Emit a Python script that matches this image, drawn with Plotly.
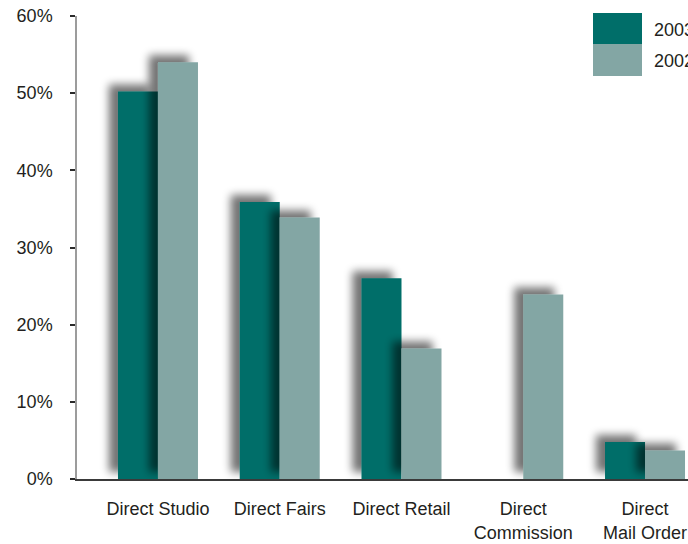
import plotly.graph_objects as go

# Channel shares by year
categories = ["Direct Studio", "Direct Fairs", "Direct Retail",
              "Direct<br>Commission", "Direct<br>Mail Order"]
share_2003 = [50.2, 35.9, 26.0, None, 4.8]
share_2002 = [54.0, 33.9, 16.9, 23.9, 3.7]
years = ["2003", "2002"]
colors = {"2003": "#006e69", "2002": "#83a6a4"}
y_ticks = [0, 10, 20, 30, 40, 50, 60]
y_tick_text = [f"{v}%" for v in y_ticks]

W, H = 688, 544
M_L, M_R, M_T, M_B = 77, 0, 16, 64.5
FONT = dict(family="Liberation Sans, Arial, sans-serif", size=18, color="#231f20")

fig = go.Figure()
for name, vals in zip(years, [share_2003, share_2002]):
    fig.add_trace(go.Bar(
        x=categories, y=vals, name=name,
        marker=dict(color=colors[name], line=dict(width=0)),
        showlegend=False, hoverinfo="skip",
    ))

# Legend drawn as large swatches with labels (pixel -> paper helpers)
pw, ph = W - M_L - M_R, H - M_T - M_B
px = lambda v: (v - M_L) / pw
py = lambda v: 1 - (v - M_T) / ph
swatches = [("2003", 13, 44, 30), ("2002", 44, 76, 61)]
for name, top, bot, ymid in swatches:
    fig.add_shape(type="rect", xref="paper", yref="paper",
                  x0=px(593), x1=px(642), y0=py(bot), y1=py(top),
                  fillcolor=colors[name], line=dict(width=0))
    fig.add_annotation(xref="paper", yref="paper", x=px(652), y=py(ymid),
                       text=name, showarrow=False, xanchor="left",
                       yanchor="middle", font=FONT)

fig.update_layout(
    width=W, height=H,
    margin=dict(l=M_L, r=M_R, t=M_T, b=M_B),
    paper_bgcolor="white", plot_bgcolor="white",
    barmode="group", bargap=0.343, bargroupgap=0,
    font=FONT,
)
fig.update_xaxes(
    type="category", range=[-0.665, 4.353],
    showline=True, linecolor="#3a3a3a", linewidth=1.5,
    showgrid=False, zeroline=False, ticks="",
    ticklabelstandoff=13, tickfont=FONT,
)
fig.update_yaxes(
    range=[0, 60], tickvals=y_ticks, ticktext=y_tick_text,
    showline=True, linecolor="#9c9c9c", linewidth=1.5,
    ticks="outside", ticklen=5, tickwidth=1.5, tickcolor="#2a2a2a",
    showgrid=False, zeroline=False,
    ticklabelstandoff=14, tickfont=FONT,
)

# Soft drop shadow behind each bar (blurred, offset up and to the left)
shadow_js = """
var gd = document.getElementById('{plot_id}');
var ns = 'http://www.w3.org/2000/svg';
var svg = gd.querySelector('svg.main-svg');
var defs = svg.querySelector('defs');
if (!defs) { defs = document.createElementNS(ns, 'defs'); svg.insertBefore(defs, svg.firstChild); }
var f = document.createElementNS(ns, 'filter');
f.setAttribute('id', 'barshadow');
f.setAttribute('x', '-80%'); f.setAttribute('y', '-60%');
f.setAttribute('width', '260%'); f.setAttribute('height', '220%');
f.innerHTML = '<feGaussianBlur in="SourceAlpha" stdDeviation="4.5"/>' +
  '<feOffset dx="-9" dy="-7" result="ob"/>' +
  '<feComponentTransfer><feFuncA type="linear" slope="0.55"/></feComponentTransfer>' +
  '<feMerge><feMergeNode/><feMergeNode in="SourceGraphic"/></feMerge>';
defs.appendChild(f);
gd.querySelectorAll('.barlayer .point path').forEach(function (p) {
  p.setAttribute('filter', 'url(#barshadow)');
});
"""

fig.write_html("out.html", post_script=shadow_js)
